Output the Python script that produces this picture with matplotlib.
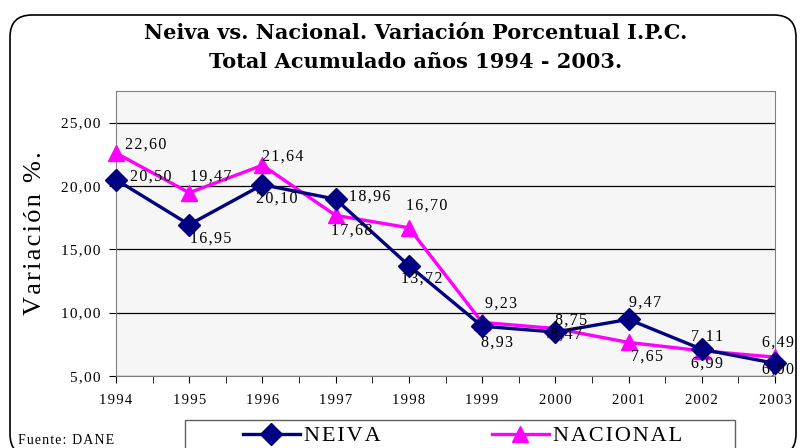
import matplotlib.pyplot as plt
from matplotlib.patches import FancyBboxPatch, Rectangle

# datos IPC
anios = [1994, 1995, 1996, 1997, 1998, 1999, 2000, 2001, 2002, 2003]
neiva = [20.50, 16.95, 20.10, 18.96, 13.72, 8.93, 8.47, 9.47, 7.11, 6.00]
nacional = [22.60, 19.47, 21.64, 17.68, 16.70, 9.23, 8.75, 7.65, 6.99, 6.49]

# desplazamiento de cada etiqueta (px)
off_neiva = [(14, 3), (1, -14), (-6, -14), (13, 3), (-8, -13),
             (-1, -16), (-5, -3), (0, 17), (-11, 13), (-13, -6)]
off_nacional = [(9, 8), (1, 16), (0, 9), (-5, -15), (-3, 22),
                (3, 19), (0, 8), (2, -14), (-11, -13), (-13, 14)]

def sp(s):
    # letras separadas como en el original
    return '\u200a'.join(s)

def fmt(v):
    return sp(f"{v:.2f}".replace(".", ","))

plt.rcParams['font.family'] = ['Liberation Serif', 'DejaVu Serif']

fig = plt.figure(figsize=(8, 4.48), dpi=100)
ax = fig.add_axes([116/800, 1 - 376/448, (775 - 116)/800, (376 - 91)/448])

# marco redondeado de la figura
marco = FancyBboxPatch((10, -8), 786, 441, boxstyle="round,pad=0,rounding_size=22",
                       transform=None, facecolor='none', edgecolor='black', lw=1.2)
fig.patches.append(marco)

ax.set_facecolor('#f6f6f6')
for s in ax.spines.values():
    s.set_color('#808080')

ax.plot(anios, neiva, color='#000080', lw=2.4, marker='D', markersize=11,
        label=sp('NEIVA'), zorder=4, clip_on=False)
ax.plot(anios, nacional, color='#ff00ff', lw=2.4, marker='^', markersize=11,
        label=sp('NACIONAL'), zorder=3, clip_on=False)

for x, y, o in zip(anios, neiva, off_neiva):
    ax.annotate(fmt(y), (x, y), xytext=o, textcoords='offset pixels',
                ha='left', va='center', fontsize=11.5, zorder=5)
for x, y, o in zip(anios, nacional, off_nacional):
    ax.annotate(fmt(y), (x, y), xytext=o, textcoords='offset pixels',
                ha='left', va='center', fontsize=11.5, zorder=5)

ax.set_xlim(1994, 2003)
ax.set_ylim(5, 27.5)
ax.set_yticks([5, 10, 15, 20, 25])
ax.set_yticklabels([fmt(v) for v in [5, 10, 15, 20, 25]], fontsize=11)
ax.set_xticks(anios)
ax.set_xticklabels([sp(str(a)) for a in anios], fontsize=10.5)
ax.set_xticks([a + 0.5 for a in anios[:-1]], minor=True)
ax.tick_params(axis='x', which='both', direction='out', length=5, pad=8)
ax.tick_params(axis='y', direction='out', length=5, pad=6)
ax.grid(axis='y', color='black', lw=0.9)
ax.set_axisbelow(True)

fig.text(35/800, 1 - 233/448, sp('Variación %.'), rotation=90, fontsize=19,
         ha='center', va='center')

fig.text(416/800, 1 - 33/448, 'Neiva vs. Nacional. Variación Porcentual I.P.C.',
         fontsize=15, fontweight='bold', ha='center', va='center',
         family=['DejaVu Serif'])
fig.text(416/800, 1 - 62/448, 'Total Acumulado años 1994 - 2003.',
         fontsize=15, fontweight='bold', ha='center', va='center',
         family=['DejaVu Serif'])

fig.text(18/800, 1 - 440/448, sp('Fuente: DANE'), fontsize=10, ha='left', va='center')

# recuadro de la leyenda
caja = Rectangle((185/800, -0.05), (735 - 185)/800, 1 - 420/448 + 0.05,
                 transform=fig.transFigure, facecolor='white', edgecolor='#606060', lw=1)
fig.patches.append(caja)
fig.legend(loc='center left', bbox_to_anchor=(243/800, 1 - 436/448), ncol=2,
           frameon=False, fontsize=16, borderpad=0, borderaxespad=0,
           handlelength=2.55, handletextpad=0.2, columnspacing=5.0)

fig.savefig('out.png', dpi=100)
